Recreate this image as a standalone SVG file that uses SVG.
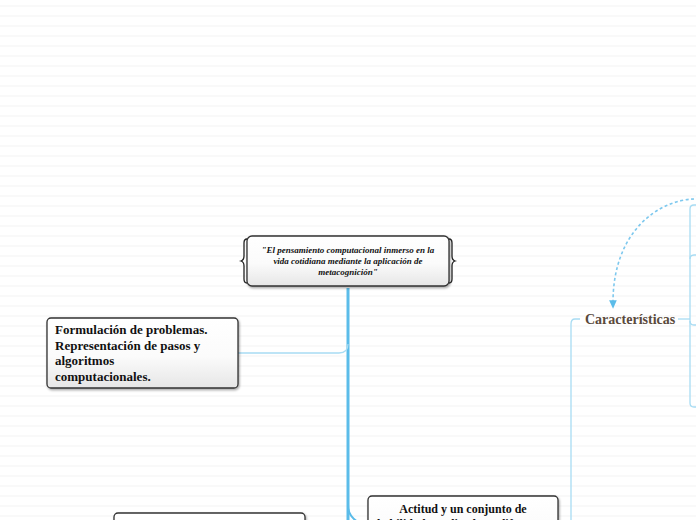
<svg xmlns="http://www.w3.org/2000/svg" width="696" height="520" viewBox="0 0 696 520">
<defs>
<pattern id="lines" x="0" y="0" width="696" height="10" patternUnits="userSpaceOnUse">
<rect x="0" y="5.3" width="696" height="1.4" fill="#f6f6f6"/>
</pattern>
<linearGradient id="nodeFill" x1="0" y1="0" x2="0" y2="1">
<stop offset="0" stop-color="#ffffff"/>
<stop offset="0.55" stop-color="#fbfbfb"/>
<stop offset="1" stop-color="#e6e6e6"/>
</linearGradient>
<filter id="shadow" x="-10%" y="-10%" width="130%" height="140%">
<feDropShadow dx="1" dy="1.5" stdDeviation="1.2" flood-color="#000" flood-opacity="0.35"/>
</filter>
<marker id="arrow" viewBox="0 0 10 10" refX="5" refY="5" markerWidth="6" markerHeight="6" orient="auto">
<path d="M0,1 L9,5 L0,9 z" fill="#5bbce9"/>
</marker>
<style>
.box{fill:url(#nodeFill);stroke:#333;stroke-width:1.3;filter:url(#shadow)}
.t{font-family:"Liberation Serif","Times New Roman",serif;font-weight:bold;fill:#111}
.ti{font-family:"Liberation Serif","Times New Roman",serif;font-weight:bold;font-style:italic;font-size:9px;fill:#111}
.thin{fill:none;stroke:#a8dcf3;stroke-width:1.3}
.trunk{fill:none;stroke:#5bbce9;stroke-width:3}
.brace{fill:none;stroke:#222;stroke-width:1.3}
</style>
</defs>
<rect width="696" height="520" fill="#ffffff"/>
<rect width="696" height="520" fill="url(#lines)"/>

<g id="connectors">
<path class="trunk" d="M348,288 V520"/>
<path class="thin" d="M238,353 H339 Q348,353 348,344"/>
<path class="thin" d="M348,505 Q348,518 362,524" style="stroke:#5bbce9;stroke-width:2"/>
<path class="thin" d="M580,319 H575 Q571,319 571,324 V520"/>
<path class="thin" d="M678,319 H690"/>
<path class="thin" d="M696,205 H694 Q690,205 690,209 V403 Q690,407 694,407 H696"/>
<path class="thin" d="M696,255 H694 Q690,255 690,259"/>
<path class="thin" d="M690,321 Q690,325 694,325 H696"/>
<path d="M694,199 C660,200 612,230 613,305" fill="none" stroke="#7dc8ee" stroke-width="1.6" stroke-dasharray="3,2.5" marker-end="url(#arrow)"/>
</g>

<g id="central">
<rect class="box" x="247" y="236" width="202" height="50" rx="5"/>
<path class="brace" d="M247,239 Q244,239 244,243 V256 Q244,260 241,261 Q244,262 244,266 V279 Q244,283 247,283"/>
<path class="brace" d="M449,239 Q452,239 452,243 V256 Q452,260 455,261 Q452,262 452,266 V279 Q452,283 449,283"/>
<text class="ti" text-anchor="middle" x="348" y="253">"El pensamiento computacional inmerso en la</text>
<text class="ti" text-anchor="middle" x="348" y="264">vida cotidiana mediante la aplicación de</text>
<text class="ti" text-anchor="middle" x="348" y="275">metacognición"</text>
</g>

<g id="formulacion">
<rect class="box" x="47" y="318" width="191" height="70" rx="4"/>
<text class="t" font-size="13" x="55" y="334">Formulación de problemas.</text>
<text class="t" font-size="13" x="55" y="350">Representación de pasos y</text>
<text class="t" font-size="13" x="55" y="365">algoritmos</text>
<text class="t" font-size="13" x="55" y="381">computacionales.</text>
</g>

<g id="actitud">
<rect class="box" x="368" y="496" width="190" height="60" rx="4"/>
<text class="t" font-size="12" text-anchor="middle" x="463" y="513">Actitud y un conjunto de</text>
<text class="t" font-size="12" text-anchor="middle" x="463" y="528">habilidades aplicadas a diferentes</text>
</g>

<g id="bottom-left">
<rect class="box" x="114" y="513" width="191" height="40" rx="4"/>
</g>

<g id="caracteristicas">
<text class="t" font-size="14" x="585" y="324" style="fill:#5a4a3c">Características</text>
</g>

<g id="bottom-right">
<text class="t" font-size="13" x="585" y="530" style="fill:#222">Formal de</text>
</g>
</svg>
